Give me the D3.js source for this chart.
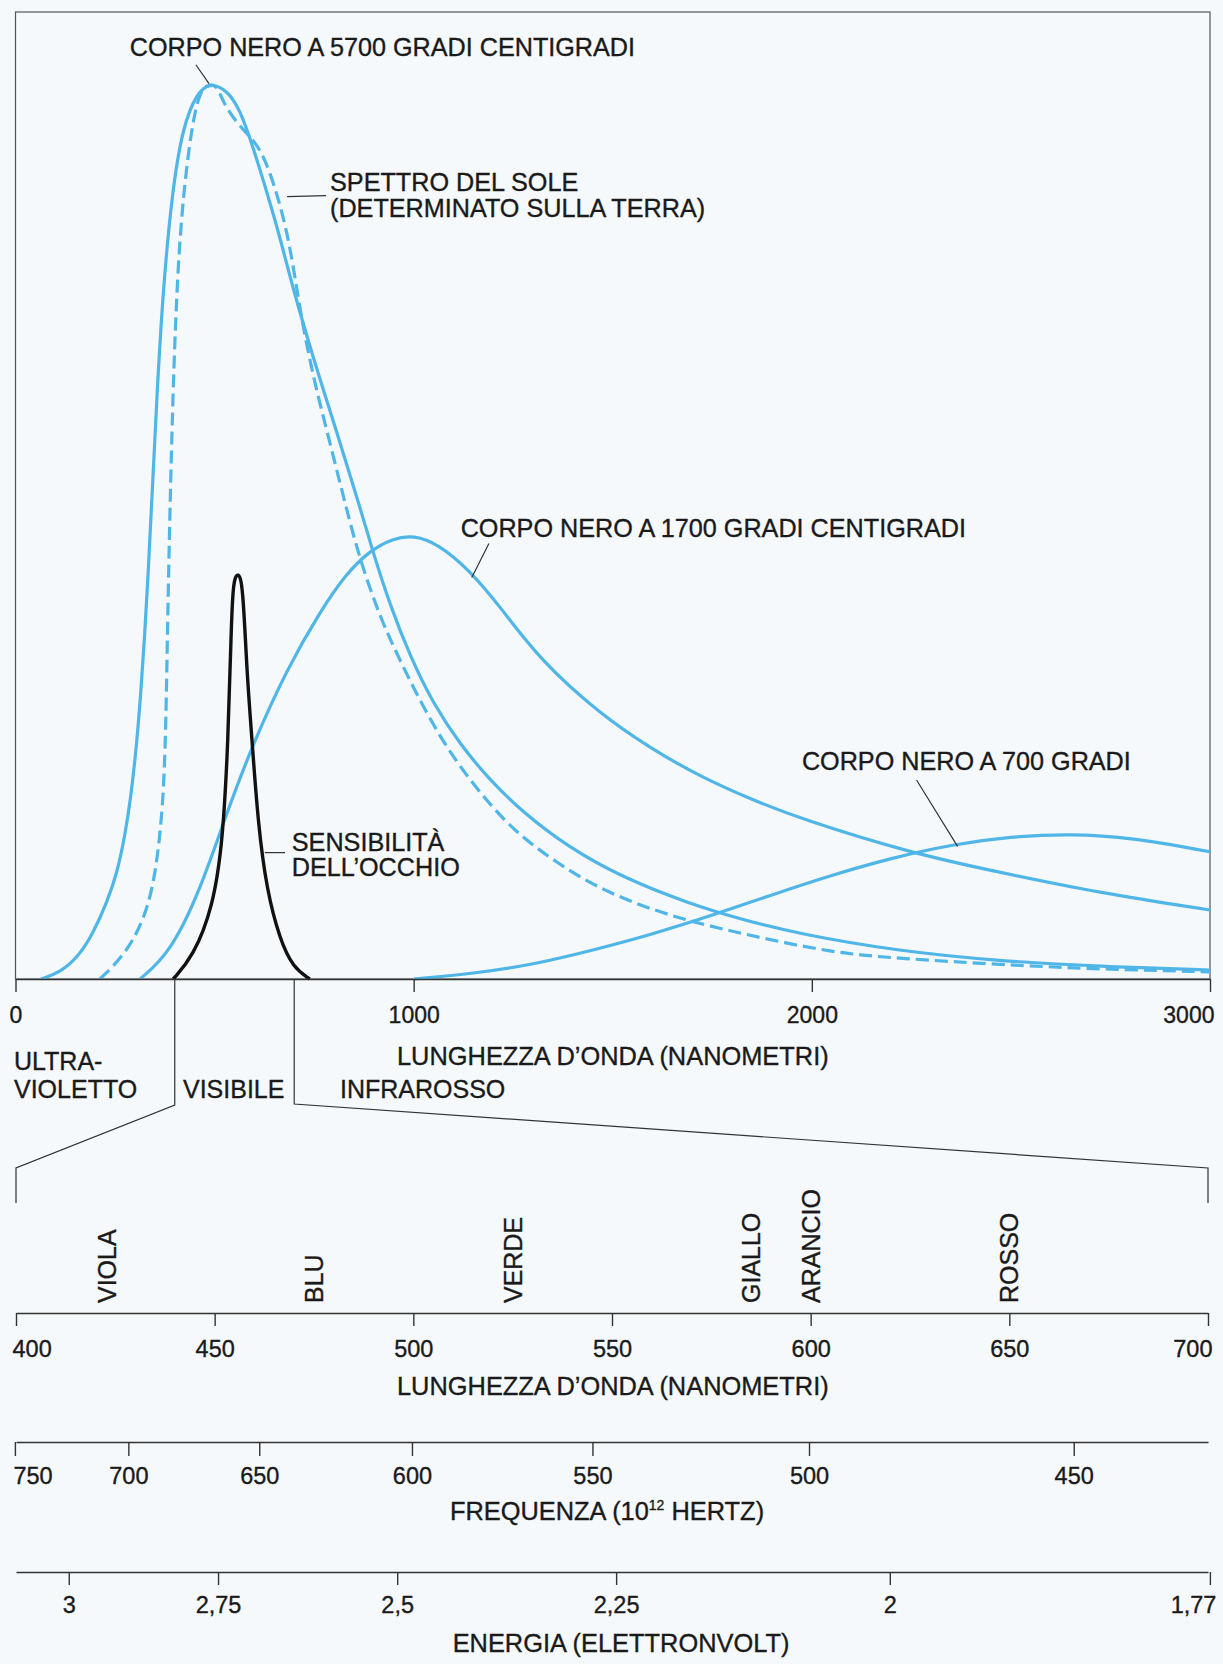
<!DOCTYPE html>
<html>
<head>
<meta charset="utf-8">
<script src="https://cdn.jsdelivr.net/npm/d3@7"></script>
<style>
  body { margin: 0; background: #f6f9fb; }
  svg { display: block; font-family: "Liberation Sans", Arial, Helvetica, sans-serif; }
  text { fill: #1a1a1a; stroke: #1a1a1a; stroke-width: 0.35px; }
  .axis line, .axis path { stroke: #333; stroke-width: 1.4; }
  .curve { fill: none; stroke: #4fb6e7; stroke-width: 3.2; }
  .eye { fill: none; stroke: #111; stroke-width: 3.4; }
  .thin { fill: none; stroke: #333; stroke-width: 1.2; }
</style>
</head>
<body>
<div id="chart"></div>
<script>
// curves: [wavelength nm, relative intensity]
var bb5700 = [[64,0],[112,0.7],[160,2.6],[195,5.1],[230,8.6],[255,11.8],[275,16],[290,20.4],[303,25.6],
  [314,31.4],[324,38],[333,45],[343,54],[355,65],[370,76.6],[393,87.7],[420,95.1],[456,98.9],[488,100],
  [531,99.2],[564,97],[596,92.9],[632,87.7],[664,82.8],[697,77],[747,69.4],[807,61],[860,53.4],
  [898,47.6],[940,41.8],[991,36],[1048,30.8],[1116,26.2],[1191,22.2],[1274,18.6],[1385,14.8],
  [1525,11.3],[1693,8.4],[1819,6.7],[1970,5],[2220,3.1],[2472,2],[2723,1.4],[3000,1]];
var sunSpectrum = [[212,0],[280,2.9],[338,8],[363,15.5],[375,23],[380,34.2],[385,46.8],[395,65.4],
  [408,80.2],[426,89.5],[446,95.9],[463,98.9],[481,99.8],[506,99.8],[521,97.8],[556,95.5],[589,94],
  [621,92.2],[657,87.7],[689,82.1],[714,74.7],[747,67.2],[790,59.8],[832,52.3],[865,46.8],[915,40.4],
  [965,35.6],[1023,30.4],[1091,25.2],[1166,20.8],[1249,16.6],[1360,12.9],[1485,9.6],[1651,6.9],
  [1819,5.1],[2052,2.9],[2221,2.3],[2472,1.6],[2723,1.1],[3000,0.8]];
var bb1700 = [[313,0],[388,2.9],[463,9.8],[531,18.6],[596,26.2],[682,34.6],[765,41],[830,45.2],
  [890,47.8],[950,49.2],[1000,49.5],[1060,48.6],[1141,45.6],[1216,41.6],[1317,35.6],[1467,29.6],
  [1600,25.6],[1719,22.6],[1850,20],[1970,17.9],[2253,14],[2472,11.9],[2723,9.6],[3000,7.7]];
var bb700 = [[1000,0],[1150,0.6],[1300,1.6],[1450,3.2],[1600,5],[1750,7.1],[1900,9.4],[2050,11.6],
  [2200,13.5],[2350,15],[2500,15.9],[2650,16.2],[2800,15.8],[3000,14.2]];
var eyeSensitivity = [[396,0],[446,2.5],[496,8],[521,15.5],[534,26.7],[541,37.8],[546,44.5],[559,45.4],
  [571,44.2],[581,34.2],[594,26.7],[609,17.4],[631,9.9],[664,4.4],[697,1.3],[739,0]];

var wavelengthTicks = [0, 1000, 2000, 3000];
var visibleTicks = [400, 450, 500, 550, 600, 650, 700];
var frequencyTicks = [750, 700, 650, 600, 550, 500, 450];
var energyTicks = [3, 2.75, 2.5, 2.25, 2, 1.77];
var colourNames = ["VIOLA", "BLU", "VERDE", "GIALLO", "ARANCIO", "ROSSO"];
var colourNm = [423, 475, 525, 585, 600, 650];
var visibleRange = [400, 700];

var C_NM_THZ = 299792.458, HC_EV_NM = 1239.84;

var annotations = [
  {lines: ["CORPO NERO A 5700 GRADI CENTIGRADI"], nm: 287, v: 103.0, leader: [[453, 102.0], [486, 99.9]]},
  {lines: ["SPETTRO DEL SOLE", "(DETERMINATO SULLA TERRA)"], nm: 790, v: 87.9, leader: [[682, 87.3], [780, 87.4]]},
  {lines: ["CORPO NERO A 1700 GRADI CENTIGRADI"], nm: 1118, v: 49.3, leader: [[1189, 48.6], [1146, 44.8]]},
  {lines: ["CORPO NERO A 700 GRADI"], nm: 1975, v: 23.3, leader: [[2263, 22.2], [2366, 14.8]]},
  {lines: ["SENSIBILITÀ", "DELL’OCCHIO"], nm: 694, v: 14.3, leader: [[626, 14.1], [677, 14.1]]}
];

var width = 1223, height = 1664;
var svg = d3.select("#chart").append("svg")
    .attr("width", width)
    .attr("height", height);

var x = d3.scaleLinear().domain([0, 3000]).range([15.5, 1210]);
var y = d3.scaleLinear().domain([0, 108]).range([979, 11]);
var xVis = d3.scaleLinear().domain([400, 700]).range([16, 1208]);
// frequency and energy go as 1/wavelength, so a pow scale with exponent -1 lines them up
var xFreq = d3.scalePow().exponent(-1).domain([C_NM_THZ / 400, C_NM_THZ / 700]).range([16, 1208]);
var xEnergy = d3.scalePow().exponent(-1).domain([HC_EV_NM / 400, HC_EV_NM / 700]).range([16, 1208]);

// frame of the upper plot
svg.append("rect")
    .attr("x", x(0)).attr("y", 12)
    .attr("width", x(3000) - x(0)).attr("height", y(0) - 12)
    .attr("fill", "none").attr("stroke", "#555").attr("stroke-width", 1.2);

var line = d3.line()
    .x(d => x(d[0]))
    .y(d => y(d[1]))
    .curve(d3.curveBasis);

svg.append("path").datum(bb700).attr("class", "curve").attr("d", line);
svg.append("path").datum(bb1700).attr("class", "curve").attr("d", line);
svg.append("path").datum(sunSpectrum).attr("class", "curve")
    .attr("stroke-dasharray", "13,6").attr("d", line);
svg.append("path").datum(bb5700).attr("class", "curve").attr("d", line);
svg.append("path").datum(eyeSensitivity).attr("class", "eye").attr("d", line);

// annotations
annotations.forEach(a => {
  svg.append("line").attr("class", "thin")
      .attr("x1", x(a.leader[0][0])).attr("y1", y(a.leader[0][1]))
      .attr("x2", x(a.leader[1][0])).attr("y2", y(a.leader[1][1]));
  var t = svg.append("text")
      .attr("x", x(a.nm)).attr("y", y(a.v))
      .attr("font-size", 25.2);
  a.lines.forEach((l, i) => {
    t.append("tspan").attr("x", x(a.nm)).attr("dy", i ? 25.5 : 0).text(l);
  });
});

function styleAxis(g, size) {
  g.attr("font-size", size).attr("font-family", null);
  g.selectAll("text").attr("fill", "#1a1a1a");
}

// upper wavelength axis
var gTop = svg.append("g").attr("class", "axis")
    .attr("transform", "translate(0," + y(0) + ")")
    .call(d3.axisBottom(x).tickValues(wavelengthTicks).tickSize(13).tickSizeOuter(0).tickPadding(15)
      .tickFormat(d3.format("d")));
styleAxis(gTop, 23);
gTop.selectAll(".tick text").filter(d => d === 3000).attr("text-anchor", "end").attr("dx", 4);

svg.append("text").attr("x", 397).attr("y", 1065).attr("font-size", 25.4)
    .text("LUNGHEZZA D’ONDA (NANOMETRI)");
svg.append("text").attr("x", 14).attr("y", 1070).attr("font-size", 25).text("ULTRA-");
svg.append("text").attr("x", 14).attr("y", 1098).attr("font-size", 25).text("VIOLETTO");
svg.append("text").attr("x", 183).attr("y", 1098).attr("font-size", 25).text("VISIBILE");
svg.append("text").attr("x", 340).attr("y", 1098).attr("font-size", 25).text("INFRAROSSO");

// bracket linking the visible band to the enlarged scale
var bracket = d3.line();
svg.append("path").attr("class", "thin")
    .attr("d", bracket([[x(visibleRange[0]), y(0)], [x(visibleRange[0]), 1105],
      [xVis(visibleRange[0]), 1168], [xVis(visibleRange[0]), 1203]]));
svg.append("path").attr("class", "thin")
    .attr("d", bracket([[x(visibleRange[1]), y(0)], [x(visibleRange[1]), 1104],
      [xVis(visibleRange[1]), 1168], [xVis(visibleRange[1]), 1203]]));

// colour names
svg.selectAll(".colour").data(colourNames).join("text")
    .attr("class", "colour")
    .attr("font-size", 25)
    .attr("dy", "0.36em")
    .attr("transform", (d, i) => "translate(" + xVis(colourNm[i]) + ",1303) rotate(-90)")
    .text(d => d);

// visible wavelength axis
var gVis = svg.append("g").attr("class", "axis")
    .attr("transform", "translate(0,1313)")
    .call(d3.axisBottom(xVis).tickValues(visibleTicks).tickSize(13).tickSizeOuter(0).tickPadding(14));
styleAxis(gVis, 23.5);
gVis.selectAll(".tick text").filter(d => d === 400).attr("text-anchor", "start").attr("dx", -4);
gVis.selectAll(".tick text").filter(d => d === 700).attr("text-anchor", "end").attr("dx", 4);
svg.append("text").attr("x", 397).attr("y", 1395).attr("font-size", 25.4)
    .text("LUNGHEZZA D’ONDA (NANOMETRI)");

// frequency axis
var gFreq = svg.append("g").attr("class", "axis")
    .attr("transform", "translate(0,1442)")
    .call(d3.axisBottom(xFreq).tickValues(frequencyTicks).tickSize(14).tickSizeOuter(0).tickPadding(11)
      .tickFormat(d3.format("d")));
styleAxis(gFreq, 23.5);
gFreq.selectAll(".tick text").filter(d => d === 750).attr("text-anchor", "start").attr("dx", -2);
var ft = svg.append("text").attr("x", 607).attr("y", 1520).attr("font-size", 25.4)
    .attr("text-anchor", "middle");
ft.append("tspan").text("FREQUENZA (10");
ft.append("tspan").attr("font-size", 14).attr("dy", -10).text("12");
ft.append("tspan").attr("dy", 10).text(" HERTZ)");

// energy axis
var gEn = svg.append("g").attr("class", "axis")
    .attr("transform", "translate(0,1572)")
    .call(d3.axisBottom(xEnergy).tickValues(energyTicks).tickSize(13).tickSizeOuter(0).tickPadding(11)
      .tickFormat(d => String(d).replace(".", ",")));
styleAxis(gEn, 23.5);
gEn.selectAll(".tick text").filter(d => d === 1.77).attr("text-anchor", "end").attr("dx", 6);
svg.append("text").attr("x", 621).attr("y", 1652).attr("font-size", 25.4)
    .attr("text-anchor", "middle").text("ENERGIA (ELETTRONVOLT)");
</script>
</body>
</html>
